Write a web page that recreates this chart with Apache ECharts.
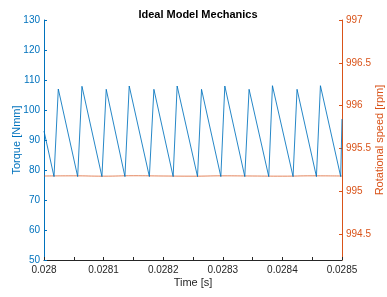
<!DOCTYPE html>
<html>
<head>
<meta charset="utf-8">
<script src="https://cdn.jsdelivr.net/npm/echarts@6/dist/echarts.min.js"></script>
<style>html,body{margin:0;padding:0;background:#fff}#c{width:387px;height:297px}</style>
</head>
<body>
<div id="c"></div>
<script>
var torqueTime = [0.028, 0.0280168, 0.0280240, 0.0280565, 0.0280637, 0.0280972, 0.0281044, 0.0281358, 0.0281430, 0.0281768, 0.0281844, 0.0282167, 0.0282234, 0.0282576, 0.0282643, 0.0282967, 0.0283034, 0.0283369, 0.0283441, 0.0283771, 0.0283833, 0.0284179, 0.0284246, 0.0284571, 0.0284638, 0.0284978, 0.0285];
var torque = [93, 77.8, 107, 77.8, 107.9, 77.8, 106.9, 77.8, 108, 77.8, 106.9, 77.8, 108, 77.8, 106.9, 77.8, 108, 77.8, 106.9, 77.8, 108.1, 77.8, 106.9, 77.8, 108.1, 77.8, 97];
var speedTime = [0.028, 0.02805, 0.0281, 0.02815, 0.0282, 0.02825, 0.0283, 0.02835, 0.0284, 0.02845, 0.0285];
var speed = [995.18, 995.182, 995.178, 995.183, 995.18, 995.178, 995.182, 995.18, 995.178, 995.182, 995.18];
var timeTicks = [0.028, 0.02805, 0.0281, 0.02815, 0.0282, 0.02825, 0.0283, 0.02835, 0.0284, 0.02845, 0.0285];
var timeLabels = [0.028, 0.0281, 0.0282, 0.0283, 0.0284, 0.0285];
var rpmTicks = [994.5, 995, 995.5, 996, 996.5, 997];

var FONT = 'Liberation Sans, Arial, Helvetica, sans-serif';
var BLUE = '#0072BD', ORANGE = '#D95319', DARK = '#262626';

function zip(a, b) { return a.map(function (v, i) { return [v, b[i]]; }); }

var chart = echarts.init(document.getElementById('c'), null, {renderer: 'canvas'});
chart.setOption({
  animation: false,
  backgroundColor: '#fff',
  title: {
    text: 'Ideal Model Mechanics', left: 193, top: 4, textAlign: 'center',
    textStyle: {fontFamily: FONT, fontSize: 11, fontWeight: 'bold', color: '#000'}
  },
  grid: {left: 44, right: 45, top: 20, bottom: 37, containLabel: false, outerBoundsMode: 'none'},
  xAxis: {
    type: 'value', min: 0.028, max: 0.0285,
    name: 'Time [s]', nameLocation: 'middle', nameGap: 17, nameMoveOverlap: false,
    nameTextStyle: {fontFamily: FONT, fontSize: 11, color: DARK},
    axisLine: {show: true, lineStyle: {color: DARK, width: 1}},
    axisTick: {show: true, inside: true, length: 3, lineStyle: {color: DARK}, customValues: timeTicks},
    axisLabel: {
      margin: 5, fontFamily: FONT, fontSize: 10, color: DARK, customValues: timeLabels,
      formatter: function (v) { return String(parseFloat(Number(v).toFixed(6))); }
    },
    splitLine: {show: false}
  },
  yAxis: [{
    type: 'value', min: 50, max: 130, interval: 10, position: 'left',
    name: 'Torque [Nmm]', nameLocation: 'middle', nameGap: 22, nameMoveOverlap: false,
    nameTextStyle: {fontFamily: FONT, fontSize: 11, color: BLUE},
    axisLine: {show: true, lineStyle: {color: BLUE, width: 1}},
    axisTick: {show: true, inside: true, length: 3, lineStyle: {color: BLUE}},
    axisLabel: {margin: 4, fontFamily: FONT, fontSize: 10, color: BLUE},
    splitLine: {show: false}
  }, {
    type: 'value', min: 994.2, max: 997, position: 'right',
    name: 'Rotational speed [rpm]', nameLocation: 'middle', nameGap: 32, nameMoveOverlap: false,
    nameTextStyle: {fontFamily: FONT, fontSize: 11, color: ORANGE},
    axisLine: {show: true, lineStyle: {color: ORANGE, width: 1}},
    axisTick: {show: true, inside: true, length: 3, lineStyle: {color: ORANGE}, customValues: rpmTicks},
    axisLabel: {margin: 4, fontFamily: FONT, fontSize: 10, color: ORANGE, customValues: rpmTicks},
    splitLine: {show: false}
  }],
  series: [{
    type: 'line', yAxisIndex: 0, data: zip(torqueTime, torque), showSymbol: false, symbol: 'none',
    lineStyle: {color: BLUE, width: 1, opacity: 0.85}, clip: true, z: 3
  }, {
    type: 'line', yAxisIndex: 1, data: zip(speedTime, speed), showSymbol: false, symbol: 'none',
    smooth: true, lineStyle: {color: ORANGE, width: 1, opacity: 0.7}, clip: true, z: 2
  }]
});
</script>
</body>
</html>
